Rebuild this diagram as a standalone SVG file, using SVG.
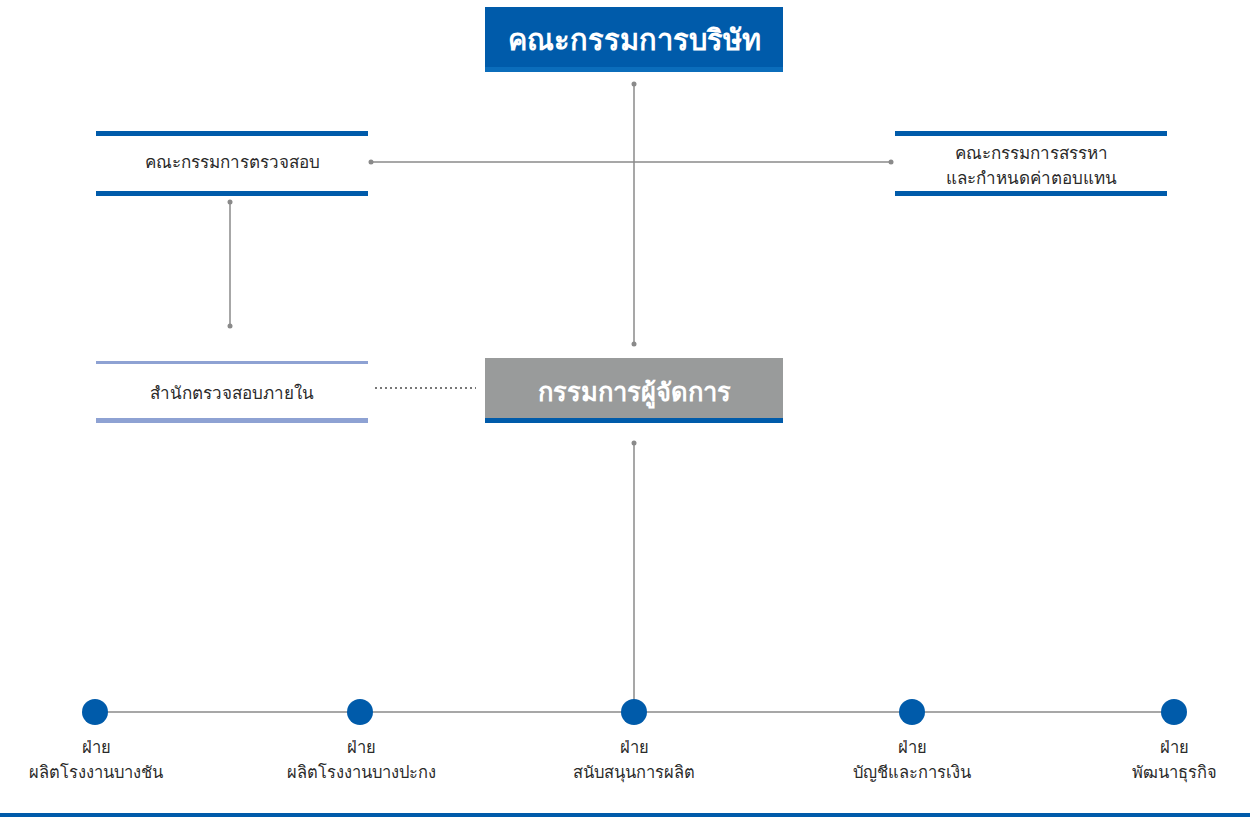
<svg xmlns="http://www.w3.org/2000/svg" width="1250" height="817" viewBox="0 0 1250 817">
<style>
.t{font-family:"Noto Sans","Noto Sans CJK SC",sans-serif;fill:#2a2a2a;font-size:17px;text-anchor:middle}
.b{font-size:16.5px}
.h{font-family:"Noto Sans","Noto Sans CJK SC",sans-serif;fill:#fff;font-weight:bold;text-anchor:middle}
.ln{stroke:#8a8a8a;stroke-width:1.5;fill:none}
.dot{fill:#8a8a8a}
.bar{fill:#005BAA}
.lbar{fill:#8EA2D3}
.c{fill:#005BAA}
</style>
<rect width="1250" height="817" fill="#fff"/>
<g id="connectors">
<line class="ln" x1="634" y1="84" x2="634" y2="344"/>
<circle class="dot" cx="634" cy="84" r="2.5"/><circle class="dot" cx="634" cy="344" r="2.5"/>
<line class="ln" x1="371" y1="162" x2="891" y2="162"/>
<circle class="dot" cx="371" cy="162" r="2.5"/><circle class="dot" cx="891" cy="162" r="2.5"/>
<line class="ln" x1="230" y1="202" x2="230" y2="326"/>
<circle class="dot" cx="230" cy="202" r="2.5"/><circle class="dot" cx="230" cy="326" r="2.5"/>
<line x1="375" y1="388" x2="476" y2="388" stroke="#777" stroke-width="2" stroke-dasharray="2,3"/>
<line class="ln" x1="634" y1="443" x2="634" y2="712"/>
<circle class="dot" cx="634" cy="443" r="2.5"/>
<line class="ln" x1="95" y1="712" x2="1174" y2="712"/>
</g>
<g id="board">
<rect x="485" y="7" width="298" height="65" fill="#005BAA"/>
<rect x="485" y="67" width="298" height="5" fill="#0B6DBB"/>
<text class="h" x="634" y="50" font-size="29">คณะกรรมการบริษัท</text>
</g>
<g id="audit-committee">
<rect class="bar" x="96" y="131" width="272" height="5"/>
<rect class="bar" x="96" y="191" width="272" height="5"/>
<text class="t" x="232" y="168">คณะกรรมการตรวจสอบ</text>
</g>
<g id="nomination-committee">
<rect class="bar" x="895" y="131" width="272" height="5"/>
<rect class="bar" x="895" y="191" width="272" height="5"/>
<text class="t" x="1031" y="159">คณะกรรมการสรรหา</text>
<text class="t" x="1031" y="184">และกำหนดค่าตอบแทน</text>
</g>
<g id="internal-audit">
<rect class="lbar" x="96" y="361" width="272" height="3"/>
<rect class="lbar" x="96" y="418" width="272" height="5"/>
<text class="t" x="232" y="399">สำนักตรวจสอบภายใน</text>
</g>
<g id="managing-director">
<rect x="485" y="358" width="298" height="60" fill="#999B9B"/>
<rect class="bar" x="485" y="418" width="298" height="5"/>
<text class="h" x="634" y="401" font-size="25.5">กรรมการผู้จัดการ</text>
</g>
<g id="dept1">
<circle class="c" cx="95" cy="712" r="13"/>
<text class="t b" x="96" y="753">ฝ่าย</text>
<text class="t b" x="96" y="778">ผลิตโรงงานบางชัน</text>
</g>
<g id="dept2">
<circle class="c" cx="360" cy="712" r="13"/>
<text class="t b" x="361" y="753">ฝ่าย</text>
<text class="t b" x="361" y="778">ผลิตโรงงานบางปะกง</text>
</g>
<g id="dept3">
<circle class="c" cx="634" cy="712" r="13"/>
<text class="t b" x="634" y="753">ฝ่าย</text>
<text class="t b" x="634" y="778">สนับสนุนการผลิต</text>
</g>
<g id="dept4">
<circle class="c" cx="912" cy="712" r="13"/>
<text class="t b" x="912" y="753">ฝ่าย</text>
<text class="t b" x="912" y="778">บัญชีและการเงิน</text>
</g>
<g id="dept5">
<circle class="c" cx="1174" cy="712" r="13"/>
<text class="t b" x="1174" y="753">ฝ่าย</text>
<text class="t b" x="1174" y="778">พัฒนาธุรกิจ</text>
</g>
<rect x="0" y="813" width="1250" height="4" fill="#005BAA"/>
</svg>
